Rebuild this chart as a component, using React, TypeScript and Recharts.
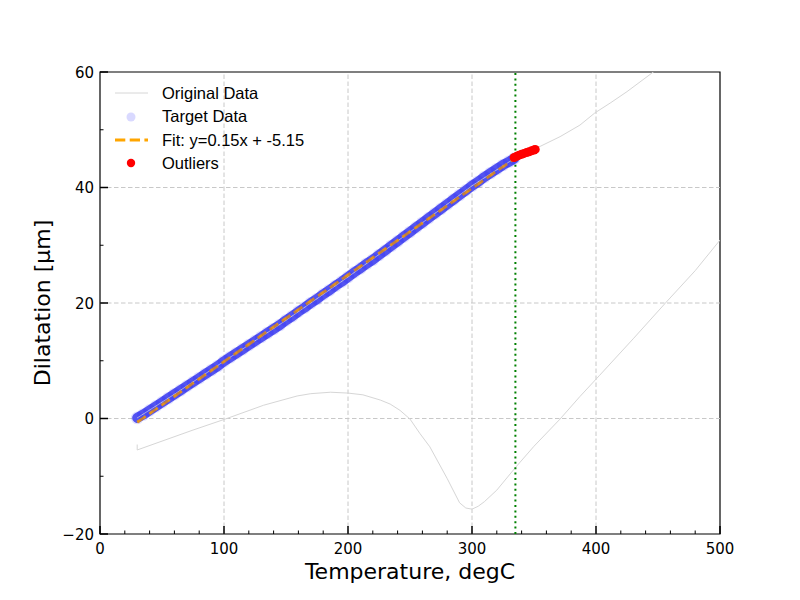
import { ComposedChart, Line, ReferenceArea, ReferenceLine, Scatter, XAxis, YAxis } from "recharts";

// raw dilatometer curve: heating run then the cooling run back to 30 degC
const ORIGINAL_T = [
  30, 60, 100, 150, 200, 250, 300, 334, 342, 350, 371, 387, 399, 412, 425, 445, 470, 500, 520,
  520, 500, 480, 456, 430, 403, 387, 371, 350, 335, 320, 310, 305, 300, 295, 290, 280, 266, 258,
  250, 242, 234, 226, 212, 200, 186, 170, 159, 132, 101, 75, 30, 30,
];
const ORIGINAL_D = [
  0.1, 4.2, 9.9, 17.0, 24.5, 32.3, 40.3, 45.0, 45.9, 46.6, 48.8, 50.8, 52.9, 54.7, 56.6, 59.8, 64.0, 69.5, 73.5,
  35.8, 30.9, 25.6, 20.0, 13.8, 7.5, 3.8, -0.1, -4.8, -8.5, -12.4, -14.4, -15.2, -15.7, -15.5, -14.6, -10.4, -4.9, -2.6,
  -0.1, 1.4, 2.5, 3.2, 4.1, 4.4, 4.55, 4.3, 3.9, 2.3, -0.1, -2.0, -5.45, -4.5,
];

const TARGET_T = [
  30, 35, 40, 45, 50, 55, 60, 65, 70, 75, 80, 85, 90, 95, 100, 105, 110, 115, 120, 125, 130,
  135, 140, 145, 150, 155, 160, 165, 170, 175, 180, 185, 190, 195, 200, 205, 210, 215, 220,
  225, 230, 235, 240, 245, 250, 255, 260, 265, 270, 275, 280, 285, 290, 295, 300, 305, 310,
  315, 320, 325, 330, 334,
];
const TARGET_D = [
  0.1, 0.7, 1.4, 2.1, 2.8, 3.5, 4.2, 4.9, 5.6, 6.3, 7.0, 7.7, 8.4, 9.1, 9.9, 10.6, 11.3, 12.0,
  12.7, 13.4, 14.1, 14.8, 15.5, 16.2, 17.0, 17.7, 18.5, 19.2, 20.0, 20.7, 21.5, 22.2, 23.0,
  23.7, 24.5, 25.3, 26.0, 26.8, 27.5, 28.3, 29.1, 29.9, 30.7, 31.5, 32.3, 33.1, 33.9, 34.7,
  35.5, 36.3, 37.1, 37.9, 38.7, 39.5, 40.3, 41.0, 41.8, 42.5, 43.2, 43.9, 44.5, 45.0,
];

const OUTLIER_T = [334, 336, 338, 340, 342, 344, 346, 348, 350, 351];
const OUTLIER_D = [45.2, 45.4, 45.6, 45.75, 45.9, 46.05, 46.2, 46.35, 46.5, 46.6];

const FIT_T = [30, 335];
const FIT_D = [-0.65, 45.1];

const CUTOFF_T = 335;

const X_MAJOR = [0, 100, 200, 300, 400, 500];
const X_TICKS = [0, 20, 40, 60, 80, 100, 120, 140, 160, 180, 200, 220, 240, 260, 280, 300, 320, 340, 360, 380, 400, 420, 440, 460, 480, 500];
const Y_MAJOR = [-20, 0, 20, 40, 60];
const Y_TICKS = [-20, -10, 0, 10, 20, 30, 40, 50, 60];
const X_GRID = [100, 200, 300, 400];
const Y_GRID = [0, 20, 40];

const zip = (xs: number[], ys: number[]) => xs.map((x, i) => ({ x, y: ys[i] }));

const original = zip(ORIGINAL_T, ORIGINAL_D);
const target = zip(TARGET_T, TARGET_D);
const outliers = zip(OUTLIER_T, OUTLIER_D);
const fit = zip(FIT_T, FIT_D);

const TICK_FONT = "DejaVu Sans, sans-serif";
const LEGEND_FONT = "Liberation Sans, Arial, sans-serif";
const GRID = "#c8c8c8";

const fmt = (v: number) => (v < 0 ? `\u2212${Math.abs(v)}` : `${v}`);

function XTick({ x, y, payload }: any) {
  const major = X_MAJOR.includes(payload.value);
  return (
    <g>
      <line x1={x} x2={x} y1={y} y2={y - (major ? 8 : 3.5)} stroke="#000" strokeWidth={major ? 1.5 : 1} />
      {major && (
        <text x={x} y={y + 20} textAnchor="middle" fontSize={15} fontFamily={TICK_FONT} fill="#000">
          {fmt(payload.value)}
        </text>
      )}
    </g>
  );
}

function YTick({ x, y, payload }: any) {
  const major = Y_MAJOR.includes(payload.value);
  return (
    <g>
      <line x1={x} x2={x + (major ? 8 : 3.5)} y1={y} y2={y} stroke="#000" strokeWidth={major ? 1.5 : 1} />
      {major && (
        <text x={x - 6} y={y + 5.5} textAnchor="end" fontSize={15} fontFamily={TICK_FONT} fill="#000">
          {fmt(payload.value)}
        </text>
      )}
    </g>
  );
}

function Overlay() {
  return (
    <svg width={800} height={600} style={{ position: "absolute", left: 0, top: 0, pointerEvents: "none" }}>
      <text x={410} y={579} textAnchor="middle" fontSize={22} fontFamily={TICK_FONT} fill="#000">
        Temperature, degC
      </text>
      <text
        x={50}
        y={303}
        textAnchor="middle"
        fontSize={22}
        fontFamily={TICK_FONT}
        fill="#000"
        transform="rotate(-90 50 303)"
      >
        Dilatation [µm]
      </text>
      <g fontSize={16.5} fontFamily={LEGEND_FONT} fill="#000">
        <line x1={115} x2={148} y1={93} y2={93} stroke="#d6d6d6" strokeWidth={1} />
        <text x={162} y={99}>Original Data</text>
        <circle cx={131} cy={117} r={4.5} fill="#0000ff" fillOpacity={0.15} />
        <text x={162} y={122}>Target Data</text>
        <line x1={115} x2={148} y1={140} y2={140} stroke="#ffa500" strokeWidth={2.8} strokeDasharray="10.3 4.4" />
        <text x={162} y={146}>Fit: y=0.15x + -5.15</text>
        <circle cx={131} cy={163} r={4.2} fill="#ff0000" />
        <text x={162} y={169}>Outliers</text>
      </g>
    </svg>
  );
}

export default function App() {
  return (
    <div style={{ position: "absolute", left: 0, top: 0, width: 800, height: 600, background: "#fff" }}>
      <ComposedChart width={800} height={600} margin={{ top: 72, right: 80, bottom: 36, left: 40 }}>
        <XAxis
          allowDataOverflow
          axisLine={false}
          dataKey="x"
          domain={[0, 500]}
          height={30}
          interval={0}
          tick={<XTick />}
          tickLine={false}
          tickMargin={0}
          tickSize={0}
          ticks={X_TICKS}
          type="number"
        />
        <YAxis
          allowDataOverflow
          axisLine={false}
          dataKey="y"
          domain={[-20, 60]}
          interval={0}
          tick={<YTick />}
          tickLine={false}
          tickMargin={0}
          tickSize={0}
          ticks={Y_TICKS}
          type="number"
          width={60}
        />
        {X_GRID.map((v) => (
          <ReferenceLine key={`gx${v}`} x={v} stroke={GRID} strokeDasharray="4.5 2.5" strokeWidth={1} />
        ))}
        {Y_GRID.map((v) => (
          <ReferenceLine key={`gy${v}`} y={v} stroke={GRID} strokeDasharray="4.5 2.5" strokeWidth={1} />
        ))}
        <Line
          data={target}
          dataKey="y"
          dot={false}
          isAnimationActive={false}
          stroke="#5f5ff0"
          strokeLinecap="round"
          strokeLinejoin="round"
          strokeWidth={10}
          type="linear"
        />
        <Scatter
          data={target}
          dataKey="y"
          isAnimationActive={false}
          shape={(p: any) => <circle cx={p.cx} cy={p.cy} r={6.3} fill="#0000ff" fillOpacity={0.12} />}
        />
        <Line
          data={original}
          dataKey="y"
          dot={false}
          isAnimationActive={false}
          stroke="#d6d6d6"
          strokeWidth={1}
          type="linear"
        />
        <Line
          data={fit}
          dataKey="y"
          dot={false}
          isAnimationActive={false}
          stroke="#ffa500"
          strokeDasharray="10.3 4.4"
          strokeWidth={2.8}
          type="linear"
        />
        <Scatter
          data={outliers}
          dataKey="y"
          isAnimationActive={false}
          shape={(p: any) => <circle cx={p.cx} cy={p.cy} r={4.5} fill="#ff0000" />}
        />
        <ReferenceLine x={CUTOFF_T} stroke="#008000" strokeDasharray="2 3.4" strokeWidth={2} />
        <ReferenceArea x1={0} x2={500} y1={-20} y2={60} fill="none" stroke="#000" strokeWidth={1.2} />
      </ComposedChart>
      <Overlay />
    </div>
  );
}
